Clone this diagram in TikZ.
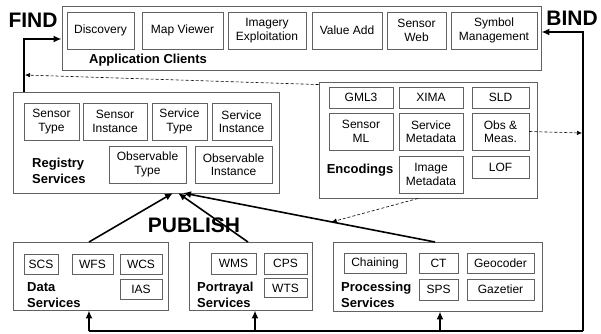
\documentclass[tikz,border=0pt]{standalone}
\usepackage{fontspec}
\setmainfont{Liberation Sans}
\usetikzlibrary{arrows.meta,calc}
\begin{document}
\begin{tikzpicture}[x=1pt,y=-1pt,
  outer/.style={draw=black!62, line width=0.9pt, inner sep=0pt},
  ibox/.style={draw=black!62, line width=0.8pt, inner sep=0pt, align=center,
    font=\fontsize{12}{13.5}\selectfont},
  lbl/.style={inner sep=0pt, align=left, font=\bfseries\fontsize{13}{16}\selectfont},
  big/.style={inner sep=0pt, font=\bfseries\fontsize{21}{21}\selectfont},
  arr/.style={line width=1.6pt, -{Latex[length=8pt,width=7pt]}},
  dash arr/.style={dashed, line width=0.6pt, dash pattern=on 3pt off 2pt, -{Latex[length=5pt,width=4.5pt]}},
  plain/.style={line width=1.6pt}]
\useasboundingbox (0,0) rectangle (601,333);

% Application clients
\node[outer, minimum width=479pt, minimum height=64pt] (app) at (301.5,38) {};
\node[ibox, minimum width=67pt, minimum height=37pt] (disc) at (100.5,30.5) {Discovery};
\node[ibox, minimum width=81pt, minimum height=37pt] (mapv) at (182.5,30.5) {Map Viewer};
\node[ibox, minimum width=78pt, minimum height=37pt] (imex) at (267,30.5) {Imagery\\Exploitation};
\node[ibox, minimum width=70pt, minimum height=37pt] (vadd) at (347,30.5) {Value Add};
\node[ibox, minimum width=59pt, minimum height=37pt] (sweb) at (416.5,30.5) {Sensor\\Web};
\node[ibox, minimum width=86pt, minimum height=37pt] (symb) at (494,30.5) {Symbol\\Management};
\node[lbl] (applbl) at (148,60) {Application Clients};

% Registry
\node[outer, minimum width=266pt, minimum height=101pt] (reg) at (146,142.5) {};
\node[ibox, minimum width=55pt, minimum height=37pt] (stype) at (51.5,121.5) {Sensor\\Type};
\node[ibox, minimum width=64pt, minimum height=37pt] (sinst) at (115,121.5) {Sensor\\Instance};
\node[ibox, minimum width=55pt, minimum height=37pt] (svtype) at (179.5,121.5) {Service\\Type};
\node[ibox, minimum width=59pt, minimum height=37pt] (svinst) at (241.5,121.5) {Service\\Instance};
\node[ibox, minimum width=77pt, minimum height=37pt] (otype) at (147.5,164.5) {Observable\\Type};
\node[ibox, minimum width=77pt, minimum height=37pt] (oinst) at (233.5,164.5) {Observable\\Instance};
\node[lbl, anchor=west] (reglbl) at (32,171) {Registry\\Services};

% Encodings
\node[outer, minimum width=218pt, minimum height=116pt] (enc) at (428,140) {};
\node[ibox, minimum width=64pt, minimum height=21pt] (gml) at (361,97.5) {GML3};
\node[ibox, minimum width=64pt, minimum height=21pt] (xima) at (431,97.5) {XIMA};
\node[ibox, minimum width=57pt, minimum height=21pt] (sld) at (500.5,97.5) {SLD};
\node[ibox, minimum width=64pt, minimum height=37pt] (sml) at (361,131.5) {Sensor\\ML};
\node[ibox, minimum width=64pt, minimum height=37pt] (smeta) at (431,131.5) {Service\\Metadata};
\node[ibox, minimum width=57pt, minimum height=37pt] (obs) at (500.5,131.5) {Obs \&\\Meas.};
\node[ibox, minimum width=64pt, minimum height=37pt] (imeta) at (431,174.5) {Image\\Metadata};
\node[ibox, minimum width=57pt, minimum height=22pt] (lof) at (500.5,167) {LOF};
\node[lbl] (enclbl) at (360,170) {Encodings};

% Data services
\node[outer, minimum width=155pt, minimum height=68pt] (data) at (90.5,276) {};
\node[ibox, minimum width=34pt, minimum height=20pt] (scs) at (41,264.5) {SCS};
\node[ibox, minimum width=41pt, minimum height=20pt] (wfs) at (92.5,264.5) {WFS};
\node[ibox, minimum width=42pt, minimum height=20pt] (wcs) at (141,264.5) {WCS};
\node[ibox, minimum width=42pt, minimum height=20pt] (ias) at (141,289) {IAS};
\node[lbl, anchor=west] (datalbl) at (27,295) {Data\\Services};

% Portrayal services
\node[outer, minimum width=123pt, minimum height=68pt] (port) at (250.5,276) {};
\node[ibox, minimum width=45pt, minimum height=21pt] (wms) at (233.5,263.5) {WMS};
\node[ibox, minimum width=43pt, minimum height=21pt] (cps) at (285.5,263.5) {CPS};
\node[ibox, minimum width=43pt, minimum height=19pt] (wts) at (285.5,288) {WTS};
\node[lbl, anchor=west] (portlbl) at (197,295) {Portrayal\\Services};

% Processing services
\node[outer, minimum width=209pt, minimum height=69pt] (proc) at (437.5,276.5) {};
\node[ibox, minimum width=62pt, minimum height=20pt] (chain) at (375,263) {Chaining};
\node[ibox, minimum width=39pt, minimum height=20pt] (ct) at (438.5,263) {CT};
\node[ibox, minimum width=67pt, minimum height=20pt] (geo) at (500.5,263) {Geocoder};
\node[ibox, minimum width=39pt, minimum height=21pt] (sps) at (438.5,289.5) {SPS};
\node[ibox, minimum width=67pt, minimum height=21pt] (gaz) at (500.5,289.5) {Gazetier};
\node[lbl, anchor=west] (proclbl) at (341,295) {Processing\\Services};

% Big labels
\node[big] (find) at (33,20) {FIND};
\node[big] (bind) at (572,18) {BIND};
\node[big] (publish) at (194,225) {PUBLISH};

% FIND connector
\coordinate (fturn) at (24,39);
\draw[arr] (fturn |- reg.north) -- (fturn) -- (fturn -| app.west);
% BIND connector
\coordinate (bturn) at (583,32);
\coordinate (bbot) at (583,331);
\coordinate (bleft) at (89,331);
\draw[arr] (bbot) -- (bturn) -- (bturn -| app.east);
\draw[plain] (bleft) -- (bbot);
\draw[arr] (bleft) -- (bleft |- data.south);
\coordinate (pb) at (255,331);
\draw[arr] (pb) -- (pb |- port.south);
\coordinate (cb) at (440,331);
\draw[arr] (cb) -- (cb |- proc.south);

% PUBLISH connectors
\coordinate (p1a) at (89,242);
\coordinate (p1b) at (173,193);
\coordinate (p2a) at (248,242);
\coordinate (p2b) at (178,193);
\coordinate (p3a) at (435,242);
\coordinate (p3b) at (183,193);
\draw[arr] (p1a) -- (p1b);
\draw[arr] (p2a) -- (p2b);
\draw[arr] (p3a) -- (p3b);

% dashed connectors
\coordinate (dfind) at (25,75);
\draw[dash arr] ($(enc.north west)+(0,3)$) -- (dfind);
\coordinate (dbind) at (582,133);
\draw[dash arr] (obs.east) -- (dbind);
\coordinate (pm) at ($(p3a)!0.41!(p3b)$);
\draw[dash arr] (enc.south -| 418,0) -- (pm);
\end{tikzpicture}
\end{document}
